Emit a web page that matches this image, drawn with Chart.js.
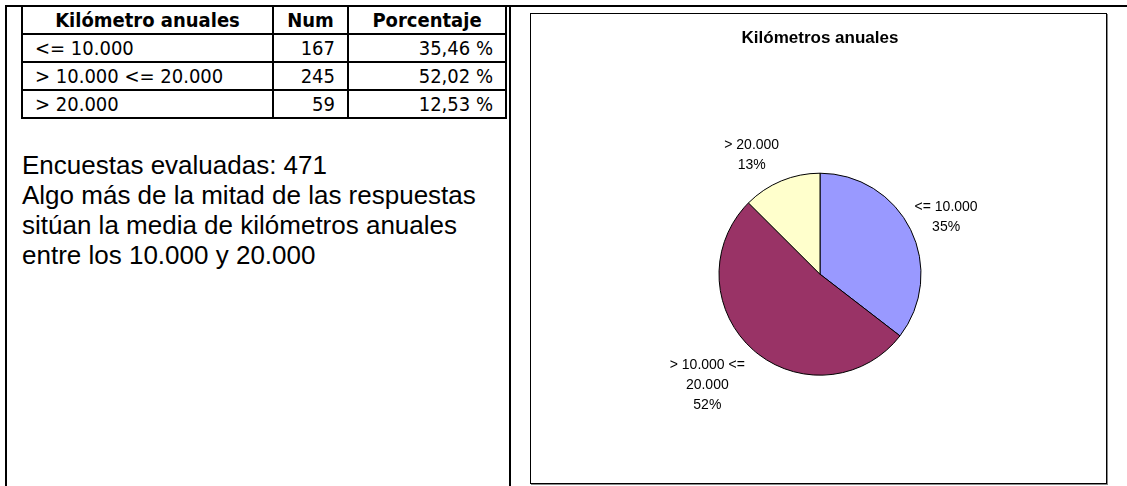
<!DOCTYPE html>
<html>
<head>
<meta charset="utf-8">
<script src="https://cdn.jsdelivr.net/npm/chart.js@4"></script>
<style>
body{margin:0;background:#fff;width:1127px;height:486px;overflow:hidden;position:relative;font-family:"Liberation Sans",Arial,sans-serif;}
.line{position:absolute;background:#000;}
#tabla{position:absolute;left:21px;top:5px;border-collapse:collapse;font-family:Tahoma,"DejaVu Sans Condensed","DejaVu Sans",sans-serif;font-size:20px;color:#000;}
#tabla td,#tabla th{border:2px solid #000;padding:0 12px;height:26px;line-height:26px;white-space:nowrap;box-sizing:border-box;}
#tabla th{text-align:center;font-weight:bold;}
#tabla td.num{text-align:right;}
#texto{position:absolute;left:22px;top:150px;font-size:26px;line-height:30px;color:#000;}
#caja{position:absolute;left:530px;top:13px;width:575px;height:469px;border:1px solid #000;box-shadow:1px 1px 0 #888;background:#fff;}
</style>
</head>
<body>
<div class="line" style="left:5px;top:5px;width:1122px;height:2px"></div>
<div class="line" style="left:5px;top:5px;width:2px;height:481px"></div>
<div class="line" style="left:509px;top:5px;width:2px;height:481px"></div>

<table id="tabla"></table>
<div id="texto"></div>

<div id="caja"><canvas id="pie" width="575" height="469"></canvas></div>

<script>
// datos
const categorias = ["<= 10.000", "> 10.000 <= 20.000", "> 20.000"];
const encuestas = [167, 245, 59];
const porcentajes = ["35,46 %", "52,02 %", "12,53 %"];
const cabecera = ["Kilómetro anuales", "Num", "Porcentaje"];
const colores = ["#9999FF", "#993366", "#FFFFCC"];
const lineasTexto = [
    "Encuestas evaluadas: 471",
    "Algo más de la mitad de las respuestas",
    "sitúan la media de kilómetros anuales",
    "entre los 10.000 y 20.000"
];

// tabla de la izquierda
const anchos = [251, 75, 158];
const tabla = document.getElementById("tabla");
let html = "<tr>";
cabecera.forEach((h,i)=>{
    html += `<th style="width:${anchos[i]}px">${h}</th>`;
});
html += "</tr>";
categorias.forEach((c,i)=>{
    const esc = c.replace(/</g,"&lt;").replace(/>/g,"&gt;");
    html += `<tr><td>${esc}</td><td class="num">${encuestas[i]}</td><td class="num">${porcentajes[i]}</td></tr>`;
});
tabla.innerHTML = html;

document.getElementById("texto").innerHTML = lineasTexto.join("<br>");

// etiquetas fuera de cada porcion, estilo Excel
const etiquetas = {
    id: "etiquetas",
    afterDatasetsDraw(chart){
        const ctx = chart.ctx;
        const meta = chart.getDatasetMeta(0);
        const total = encuestas.reduce((a,b)=>a+b,0);
        ctx.save();
        ctx.font = "14px 'Liberation Sans', Arial, sans-serif";
        ctx.fillStyle = "#000";
        ctx.textAlign = "center";
        ctx.textBaseline = "middle";
        meta.data.forEach((arc,i)=>{
            const p = arc.getProps(["x","y","startAngle","endAngle","outerRadius"], true);
            const mid = (p.startAngle + p.endAngle)/2;
            const ux = Math.cos(mid), uy = Math.sin(mid);
            // partir el texto en lineas de 80px como max
            const words = categorias[i].split(" ");
            const lines = [];
            let cur = "";
            words.forEach(w=>{
                const t = cur ? cur + " " + w : w;
                if(ctx.measureText(t).width > 80 && cur){ lines.push(cur); cur = w; }
                else cur = t;
            });
            lines.push(cur);
            lines.push(Math.round(encuestas[i]/total*100) + "%");
            const lh = 20;
            const w = Math.max(...lines.map(l=>ctx.measureText(l).width));
            const h = lines.length*lh;
            const gap = 8;
            const px = p.x + (p.outerRadius+gap)*ux;
            const py = p.y + (p.outerRadius+gap)*uy;
            // en el lado izquierdo Excel separa un poco mas la caja
            const cx = px + ux*w/2 + (ux < 0 ? -16 : 0);
            const cy = py + uy*h/2 + (uy > 0 ? 6 : 0);
            lines.forEach((l,k)=>{
                ctx.fillText(l, cx, cy - h/2 + lh/2 + k*lh);
            });
        });
        ctx.restore();
    }
};

new Chart(document.getElementById("pie"),{
    type:"pie",
    data:{
        labels:categorias,
        datasets:[{
            data:encuestas,
            backgroundColor:colores,
            borderColor:"#000",
            borderWidth:1,
            radius:101,
            hoverOffset:0
        }]
    },
    options:{
        responsive:false,
        animation:false,
        layout:{padding:{left:3,right:0,top:0,bottom:0}},
        plugins:{
            legend:{display:false},
            tooltip:{enabled:false},
            title:{
                display:true,
                text:"Kilómetros anuales",
                color:"#000",
                font:{family:"'Liberation Sans', Arial, sans-serif",size:17,weight:"bold"},
                padding:{top:14,bottom:17}
            }
        }
    },
    plugins:[etiquetas]
});
</script>
</body>
</html>
